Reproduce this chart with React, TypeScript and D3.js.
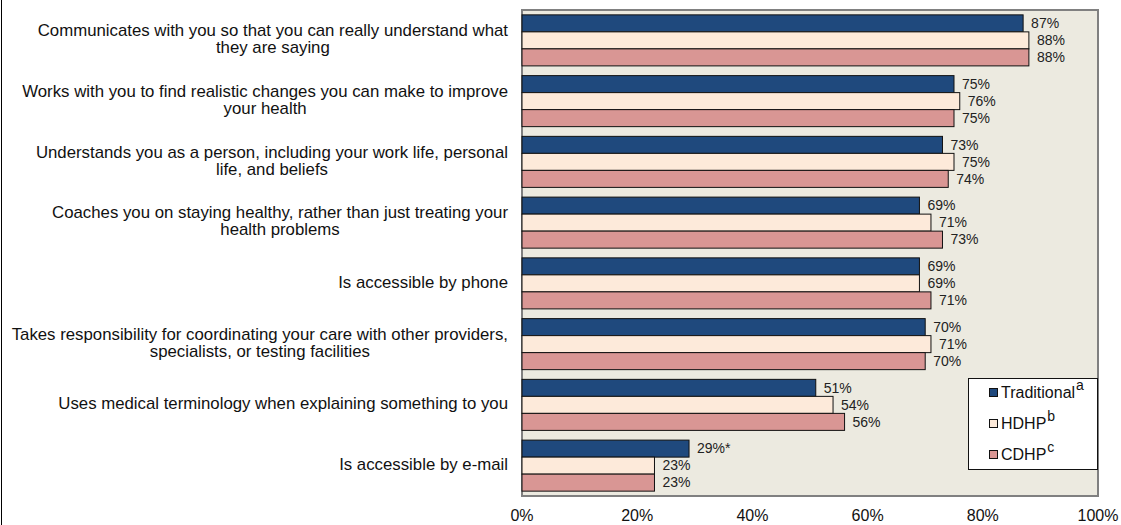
import React, { useEffect, useRef } from 'react';
import * as d3 from 'd3';

// category labels, already broken into lines the way the chart wraps them
const categories: string[][] = [
  ['Communicates with you so that you can really understand what', 'they are saying'],
  ['Works with you to find realistic changes you can make to improve', 'your health'],
  ['Understands you as a person, including your work life, personal', 'life, and beliefs'],
  ['Coaches you on staying healthy, rather than just treating your', 'health problems'],
  ['Is accessible by phone'],
  ['Takes responsibility for coordinating your care with other providers,', 'specialists, or testing facilities'],
  ['Uses medical terminology when explaining something to you'],
  ['Is accessible by e-mail'],
];

const seriesNames = ['Traditional', 'HDHP', 'CDHP'];
const seriesSup = ['a', 'b', 'c'];
const seriesColors = ['#1F497D', '#FDEADA', '#D99694'];

const traditional = [87, 75, 73, 69, 69, 70, 51, 29];
const hdhp = [88, 76, 75, 71, 69, 71, 54, 23];
const cdhp = [88, 75, 74, 73, 71, 70, 56, 23];
// significance marks shown after the value label
const traditionalMarks = ['', '', '', '', '', '', '', '*'];

const xTicks = [0, 20, 40, 60, 80, 100];

const W = 1121;
const H = 525;
const plot = { left: 522, right: 1098, top: 10, bottom: 496 };
const FONT = 'Liberation Sans, Arial, sans-serif';

export default function App() {
  const ref = useRef<SVGSVGElement>(null);

  useEffect(() => {
    const svg = d3.select(ref.current);
    svg.selectAll('*').remove();

    const x = d3.scaleLinear().domain([0, 100]).range([plot.left, plot.right]);
    const y = d3
      .scaleBand<number>()
      .domain(d3.range(categories.length))
      .range([plot.top, plot.bottom])
      .paddingInner(0.16)
      .paddingOuter(0.08);
    const ySub = d3.scaleBand<number>().domain([0, 1, 2]).range([0, y.bandwidth()]);

    const values = [traditional, hdhp, cdhp];

    // frame line on the left edge
    svg.append('line').attr('x1', 1.5).attr('x2', 1.5).attr('y1', 0).attr('y2', H)
      .attr('stroke', '#000').attr('stroke-width', 1);

    // plot area
    svg.append('rect')
      .attr('x', plot.left).attr('y', plot.top)
      .attr('width', plot.right - plot.left).attr('height', plot.bottom - plot.top)
      .attr('fill', '#ECEAE0').attr('stroke', '#808080').attr('stroke-width', 2);

    // bars
    categories.forEach((_, ci) => {
      const g = svg.append('g').attr('transform', `translate(0,${y(ci)})`);
      values.forEach((vals, si) => {
        const v = vals[ci];
        g.append('rect')
          .attr('x', x(0))
          .attr('y', ySub(si)!)
          .attr('width', x(v) - x(0))
          .attr('height', ySub.bandwidth())
          .attr('fill', seriesColors[si])
          .attr('stroke', '#111')
          .attr('stroke-width', 1);
        g.append('text')
          .attr('x', x(v) + 8)
          .attr('y', ySub(si)! + ySub.bandwidth() / 2 + 1)
          .attr('dominant-baseline', 'middle')
          .attr('font-family', FONT)
          .attr('font-size', 14)
          .attr('fill', '#222')
          .text(v + '%' + (si === 0 ? traditionalMarks[ci] : ''));
      });
    });

    // category labels: lines centred on each other, block right-aligned
    const labelRight = 508;
    categories.forEach((lines, ci) => {
      const yc = y(ci)! + y.bandwidth() / 2;
      const g = svg.append('g').attr('transform', `translate(${labelRight},0) scale(1.05,1)`);
      const texts = lines.map((line, li) =>
        g.append('text')
          .attr('y', yc + (li - (lines.length - 1) / 2) * 17)
          .attr('dominant-baseline', 'middle')
          .attr('text-anchor', 'middle')
          .attr('font-family', FONT)
          .attr('font-size', 16)
          .attr('fill', '#111')
          .text(line)
      );
      const widths = texts.map((t) => (t.node() as SVGTextElement).getComputedTextLength());
      const maxW = d3.max(widths) || 0;
      texts.forEach((t) => t.attr('x', -maxW / 2));
    });

    // x axis labels
    svg.append('g')
      .selectAll('text')
      .data(xTicks)
      .join('text')
      .attr('x', (d) => x(d))
      .attr('y', 517)
      .attr('text-anchor', 'middle')
      .attr('dominant-baseline', 'middle')
      .attr('font-family', FONT)
      .attr('font-size', 16)
      .attr('fill', '#111')
      .text((d) => d + '%');

    // legend
    const legend = svg.append('g');
    legend.append('rect')
      .attr('x', 968.5).attr('y', 378.5).attr('width', 129).attr('height', 91)
      .attr('fill', '#fff').attr('stroke', '#111').attr('stroke-width', 1);
    seriesNames.forEach((name, si) => {
      const baseline = 398 + si * 31;
      legend.append('rect')
        .attr('x', 989.5).attr('y', baseline - 9.5).attr('width', 8).attr('height', 8)
        .attr('fill', seriesColors[si]).attr('stroke', '#111').attr('stroke-width', 1);
      const t = legend.append('text')
        .attr('x', 1001).attr('y', baseline)
        .attr('font-family', FONT)
        .attr('font-size', 16)
        .attr('fill', '#111');
      t.append('tspan').text(name);
      t.append('tspan').attr('dy', -8).attr('dx', 1).attr('font-size', 14).text(seriesSup[si]);
    });
  }, []);

  return (
    <svg
      ref={ref}
      width={W}
      height={H}
      style={{ position: 'absolute', left: 0, top: 0, background: '#fff' }}
    />
  );
}
